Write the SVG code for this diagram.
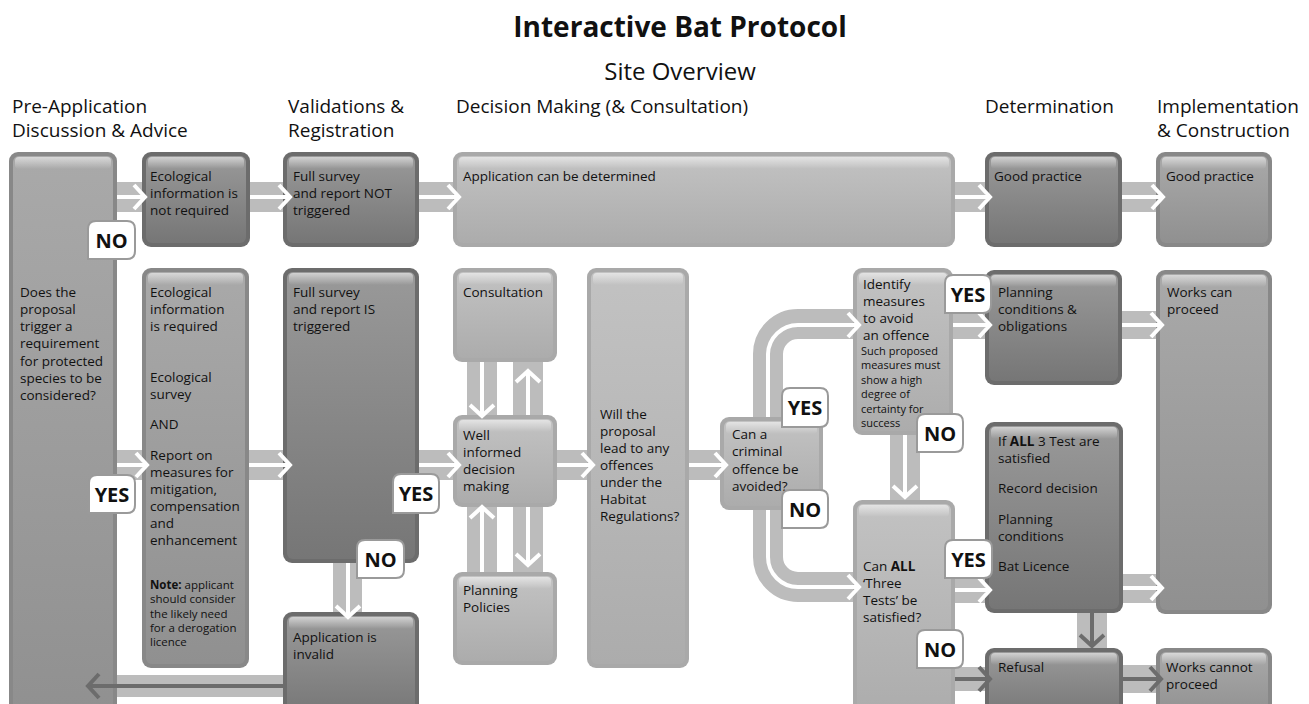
<svg xmlns="http://www.w3.org/2000/svg" width="1309" height="704" viewBox="0 0 1309 704">
<defs>
<linearGradient id="gd" x1="0" y1="0" x2="0" y2="1"><stop offset="0" stop-color="#999999"/><stop offset="1" stop-color="#767676"/></linearGradient>
<linearGradient id="gm" x1="0" y1="0" x2="0" y2="1"><stop offset="0" stop-color="#a9a9a9"/><stop offset="1" stop-color="#909090"/></linearGradient>
<linearGradient id="gl" x1="0" y1="0" x2="0" y2="1"><stop offset="0" stop-color="#c2c2c2"/><stop offset="1" stop-color="#acacac"/></linearGradient>
<linearGradient id="hl" x1="0" y1="0" x2="0" y2="1"><stop offset="0" stop-color="#ffffff" stop-opacity="0.55"/><stop offset="1" stop-color="#ffffff" stop-opacity="0"/></linearGradient>
<marker id="aw" markerUnits="userSpaceOnUse" markerWidth="16" markerHeight="28" viewBox="0 0 16 28" refX="13" refY="14" orient="auto" overflow="visible"><path d="M2,2 L13,14 L2,26" fill="none" stroke="#ffffff" stroke-width="4"/></marker>
<marker id="ad" markerUnits="userSpaceOnUse" markerWidth="16" markerHeight="28" viewBox="0 0 16 28" refX="13" refY="14" orient="auto" overflow="visible"><path d="M2,2 L13,14 L2,26" fill="none" stroke="#6c6c6c" stroke-width="4"/></marker>
</defs>
<style>
.t{font-family:"Open Sans","Liberation Sans",sans-serif;font-size:13.5px;fill:#111}
.s{font-family:"Open Sans","Liberation Sans",sans-serif;font-size:11px;fill:#111}
.h{font-family:"Open Sans","Liberation Sans",sans-serif;font-size:19px;fill:#111}
.bd{fill:#6c6c6c}.bm{fill:#888888}.bl{fill:#a9a9a9}
.id{fill:url(#gd)}.im{fill:url(#gm)}.il{fill:url(#gl)}
.hi{fill:url(#hl)}
.band{fill:#bcbcbc}
.bandp{fill:none;stroke:#bcbcbc;stroke-width:30}
.wa{fill:none;stroke:#ffffff;stroke-width:4;marker-end:url(#aw)}
.da{fill:none;stroke:#6c6c6c;stroke-width:4;marker-end:url(#ad)}
.lb{fill:#ffffff;stroke:#9a9a9a;stroke-width:2}
.lt{font-family:"Open Sans","Liberation Sans",sans-serif;font-size:20px;font-weight:bold;fill:#111;text-anchor:middle}
</style>
<rect width="1309" height="704" fill="#ffffff"/>
<g id="titles">
<text x="680" y="37" text-anchor="middle" style="font-family:'Open Sans','Liberation Sans',sans-serif;font-size:28px;font-weight:bold;fill:#111">Interactive Bat Protocol</text>
<text x="680" y="80" text-anchor="middle" style="font-family:'Open Sans','Liberation Sans',sans-serif;font-size:24px;fill:#111">Site Overview</text>
<text class="h" x="12" y="113">Pre-Application</text>
<text class="h" x="12" y="137">Discussion &amp; Advice</text>
<text class="h" x="288" y="113">Validations &amp;</text>
<text class="h" x="288" y="137">Registration</text>
<text class="h" x="456" y="113">Decision Making (&amp; Consultation)</text>
<text class="h" x="985" y="113">Determination</text>
<text class="h" x="1157" y="113">Implementation</text>
<text class="h" x="1157" y="137">&amp; Construction</text>
</g>
<g id="n-pre">
<rect class="bm" x="9" y="152" width="108" height="570" rx="9"/><rect class="im" x="13" y="156" width="100" height="562" rx="6"/><rect class="hi" x="15" y="157" width="96" height="12" rx="4"/>
<text class="t" x="20"><tspan x="20" y="297">Does the</tspan><tspan x="20" y="314">proposal</tspan><tspan x="20" y="331">trigger a</tspan><tspan x="20" y="348">requirement</tspan><tspan x="20" y="366">for protected</tspan><tspan x="20" y="383">species to be</tspan><tspan x="20" y="400">considered?</tspan></text>
</g>
<g id="n-eco-no">
<rect class="bd" x="142" y="152" width="108" height="95" rx="9"/><rect class="id" x="146" y="156" width="100" height="87" rx="6"/><rect class="hi" x="148" y="157" width="96" height="12" rx="4"/>
<text class="t"><tspan x="150" y="181">Ecological</tspan><tspan x="150" y="198">information is</tspan><tspan x="150" y="215">not required</tspan></text>
</g>
<g id="n-not">
<rect class="bd" x="283" y="152" width="136" height="95" rx="9"/><rect class="id" x="287" y="156" width="128" height="87" rx="6"/><rect class="hi" x="289" y="157" width="124" height="12" rx="4"/>
<text class="t"><tspan x="293" y="181">Full survey</tspan><tspan x="293" y="198">and report NOT</tspan><tspan x="293" y="215">triggered</tspan></text>
</g>
<g id="n-acbd">
<rect class="bl" x="453" y="152" width="502" height="95" rx="9"/><rect class="il" x="457" y="156" width="494" height="87" rx="6"/><rect class="hi" x="459" y="157" width="490" height="12" rx="4"/>
<text class="t" x="463" y="181">Application can be determined</text>
</g>
<g id="n-gp1">
<rect class="bd" x="985" y="152" width="137" height="95" rx="9"/><rect class="id" x="989" y="156" width="129" height="87" rx="6"/><rect class="hi" x="991" y="157" width="125" height="12" rx="4"/>
<text class="t" x="994" y="181">Good practice</text>
</g>
<g id="n-gp2">
<rect class="bm" x="1156" y="152" width="116" height="95" rx="9"/><rect class="im" x="1160" y="156" width="108" height="87" rx="6"/><rect class="hi" x="1162" y="157" width="104" height="12" rx="4"/>
<text class="t" x="1166" y="181">Good practice</text>
</g>
<g id="n-eco-req">
<rect class="bm" x="142" y="268" width="107" height="400" rx="9"/><rect class="im" x="146" y="272" width="99" height="392" rx="6"/><rect class="hi" x="148" y="273" width="95" height="12" rx="4"/>
<text class="t"><tspan x="150" y="297">Ecological</tspan><tspan x="150" y="314">information</tspan><tspan x="150" y="331">is required</tspan><tspan x="150" y="382">Ecological</tspan><tspan x="150" y="399">survey</tspan><tspan x="150" y="429">AND</tspan><tspan x="150" y="460">Report on</tspan><tspan x="150" y="477">measures for</tspan><tspan x="150" y="494">mitigation,</tspan><tspan x="150" y="511">compensation</tspan><tspan x="150" y="528">and</tspan><tspan x="150" y="545">enhancement</tspan></text>
<text class="s" style="font-size:11.5px"><tspan x="150" y="589"><tspan font-weight="bold">Note:</tspan> applicant</tspan><tspan x="150" y="603">should consider</tspan><tspan x="150" y="618">the likely need</tspan><tspan x="150" y="632">for a derogation</tspan><tspan x="150" y="646">licence</tspan></text>
</g>
<g id="n-is">
<rect class="bd" x="283" y="268" width="136" height="295" rx="9"/><rect class="id" x="287" y="272" width="128" height="287" rx="6"/><rect class="hi" x="289" y="273" width="124" height="12" rx="4"/>
<text class="t"><tspan x="293" y="297">Full survey</tspan><tspan x="293" y="314">and report IS</tspan><tspan x="293" y="331">triggered</tspan></text>
</g>
<g id="n-invalid">
<rect class="bd" x="283" y="612" width="136" height="110" rx="9"/><rect class="id" x="287" y="616" width="128" height="102" rx="6"/><rect class="hi" x="289" y="617" width="124" height="12" rx="4"/>
<text class="t"><tspan x="293" y="642">Application is</tspan><tspan x="293" y="659">invalid</tspan></text>
</g>
<g id="n-cons">
<rect class="bl" x="453" y="268" width="104" height="94" rx="9"/><rect class="il" x="457" y="272" width="96" height="86" rx="6"/><rect class="hi" x="459" y="273" width="92" height="12" rx="4"/>
<text class="t" x="463" y="297">Consultation</text>
</g>
<g id="n-wid">
<rect class="bl" x="453" y="415" width="104" height="92" rx="9"/><rect class="il" x="457" y="419" width="96" height="84" rx="6"/><rect class="hi" x="459" y="420" width="92" height="12" rx="4"/>
<text class="t"><tspan x="463" y="440">Well</tspan><tspan x="463" y="457">informed</tspan><tspan x="463" y="474">decision</tspan><tspan x="463" y="491">making</tspan></text>
</g>
<g id="n-pp">
<rect class="bl" x="453" y="572" width="104" height="93" rx="9"/><rect class="il" x="457" y="576" width="96" height="85" rx="6"/><rect class="hi" x="459" y="577" width="92" height="12" rx="4"/>
<text class="t"><tspan x="463" y="595">Planning</tspan><tspan x="463" y="612">Policies</tspan></text>
</g>
<g id="n-will">
<rect class="bl" x="587" y="268" width="102" height="400" rx="9"/><rect class="il" x="591" y="272" width="94" height="392" rx="6"/><rect class="hi" x="593" y="273" width="90" height="12" rx="4"/>
<text class="t"><tspan x="600" y="419">Will the</tspan><tspan x="600" y="436">proposal</tspan><tspan x="600" y="453">lead to any</tspan><tspan x="600" y="470">offences</tspan><tspan x="600" y="487">under the</tspan><tspan x="600" y="504">Habitat</tspan><tspan x="600" y="521">Regulations?</tspan></text>
</g>
<g id="n-crim">
<rect class="bl" x="720" y="417" width="103" height="93" rx="9"/><rect class="il" x="724" y="421" width="95" height="85" rx="6"/><rect class="hi" x="726" y="422" width="91" height="12" rx="4"/>
<text class="t"><tspan x="732" y="439">Can a</tspan><tspan x="732" y="456">criminal</tspan><tspan x="732" y="474">offence be</tspan><tspan x="732" y="491">avoided?</tspan></text>
</g>
<g id="n-ident">
<rect class="bl" x="853" y="268" width="100" height="167" rx="9"/><rect class="il" x="857" y="272" width="92" height="159" rx="6"/><rect class="hi" x="859" y="273" width="88" height="12" rx="4"/>
<text class="t"><tspan x="863" y="289">Identify</tspan><tspan x="863" y="306">measures</tspan><tspan x="863" y="323">to avoid</tspan><tspan x="863" y="340">an offence</tspan></text>
<text class="s"><tspan x="861" y="355">Such proposed</tspan><tspan x="861" y="369">measures must</tspan><tspan x="861" y="384">show a high</tspan><tspan x="861" y="398">degree of</tspan><tspan x="861" y="413">certainty for</tspan><tspan x="861" y="427">success</tspan></text>
</g>
<g id="n-pc">
<rect class="bd" x="985" y="270" width="137" height="115" rx="9"/><rect class="id" x="989" y="274" width="129" height="107" rx="6"/><rect class="hi" x="991" y="275" width="125" height="12" rx="4"/>
<text class="t"><tspan x="998" y="297">Planning</tspan><tspan x="998" y="314">conditions &amp;</tspan><tspan x="998" y="331">obligations</tspan></text>
</g>
<g id="n-wcp">
<rect class="bm" x="1156" y="270" width="116" height="344" rx="9"/><rect class="im" x="1160" y="274" width="108" height="336" rx="6"/><rect class="hi" x="1162" y="275" width="104" height="12" rx="4"/>
<text class="t"><tspan x="1167" y="297">Works can</tspan><tspan x="1167" y="314">proceed</tspan></text>
</g>
<g id="n-all3">
<rect class="bd" x="985" y="422" width="138" height="191" rx="9"/><rect class="id" x="989" y="426" width="130" height="183" rx="6"/><rect class="hi" x="991" y="427" width="126" height="12" rx="4"/>
<text class="t"><tspan x="998" y="446">If <tspan font-weight="bold">ALL</tspan> 3 Test are</tspan><tspan x="998" y="463">satisfied</tspan><tspan x="998" y="493">Record decision</tspan><tspan x="998" y="524">Planning</tspan><tspan x="998" y="541">conditions</tspan><tspan x="998" y="571">Bat Licence</tspan></text>
</g>
<g id="n-canall">
<rect class="bl" x="853" y="500" width="102" height="222" rx="9"/><rect class="il" x="857" y="504" width="94" height="214" rx="6"/><rect class="hi" x="859" y="505" width="90" height="12" rx="4"/>
<text class="t"><tspan x="863" y="571">Can <tspan font-weight="bold">ALL</tspan></tspan><tspan x="863" y="588">‘Three</tspan><tspan x="863" y="605">Tests’ be</tspan><tspan x="863" y="622">satisfied?</tspan></text>
</g>
<g id="n-refusal">
<rect class="bd" x="985" y="648" width="138" height="74" rx="9"/><rect class="id" x="989" y="652" width="130" height="66" rx="6"/><rect class="hi" x="991" y="653" width="126" height="12" rx="4"/>
<text class="t" x="998" y="672">Refusal</text>
</g>
<g id="n-wcn">
<rect class="bm" x="1156" y="648" width="116" height="74" rx="9"/><rect class="im" x="1160" y="652" width="108" height="66" rx="6"/><rect class="hi" x="1162" y="653" width="104" height="12" rx="4"/>
<text class="t"><tspan x="1166" y="672">Works cannot</tspan><tspan x="1166" y="689">proceed</tspan></text>
</g>
<g id="connectors">
<rect class="band" x="117" y="182" width="25" height="30"/>
<rect class="band" x="250" y="182" width="33" height="30"/>
<rect class="band" x="419" y="182" width="34" height="30"/>
<rect class="band" x="955" y="182" width="30" height="30"/>
<rect class="band" x="1122" y="182" width="34" height="30"/>
<rect class="band" x="117" y="450" width="25" height="30"/>
<rect class="band" x="249" y="450" width="34" height="30"/>
<rect class="band" x="419" y="450" width="34" height="30"/>
<rect class="band" x="557" y="450" width="30" height="30"/>
<rect class="band" x="689" y="450" width="31" height="30"/>
<rect class="band" x="953" y="311" width="32" height="28"/>
<rect class="band" x="1122" y="311" width="34" height="28"/>
<rect class="band" x="955" y="575" width="30" height="28"/>
<rect class="band" x="1123" y="574" width="33" height="29"/>
<rect class="band" x="955" y="667" width="30" height="24"/>
<rect class="band" x="1123" y="665" width="33" height="28"/>
<rect class="band" x="117" y="675" width="166" height="22"/>
<rect class="band" x="467" y="362" width="30" height="53"/>
<rect class="band" x="513" y="362" width="30" height="53"/>
<rect class="band" x="467" y="507" width="30" height="65"/>
<rect class="band" x="513" y="507" width="30" height="65"/>
<rect class="band" x="333" y="563" width="29" height="49"/>
<rect class="band" x="890" y="435" width="30" height="65"/>
<rect class="band" x="1077" y="613" width="30" height="35"/>
<path class="bandp" d="M768,417 V354 A30,30 0 0 1 798,324 H853"/>
<path class="bandp" d="M768,510 V557 A30,30 0 0 0 798,587 H853"/>
<path class="wa" d="M117,197 H145"/>
<path class="wa" d="M250,197 H290"/>
<path class="wa" d="M419,197 H459"/>
<path class="wa" d="M955,197 H990"/>
<path class="wa" d="M1122,197 H1163"/>
<path class="wa" d="M117,465 H147"/>
<path class="wa" d="M249,465 H290"/>
<path class="wa" d="M419,465 H459"/>
<path class="wa" d="M557,465 H593"/>
<path class="wa" d="M689,465 H726"/>
<path class="wa" d="M953,325 H990"/>
<path class="wa" d="M1122,325 H1162"/>
<path class="wa" d="M955,590 H990"/>
<path class="wa" d="M1123,588 H1162"/>
<path class="wa" d="M768,417 V354 A30,30 0 0 1 798,325 H859"/>
<path class="wa" d="M768,510 V557 A30,30 0 0 0 798,587 H859"/>
<path class="wa" d="M482,362 V416"/>
<path class="wa" d="M528,415 V371"/>
<path class="wa" d="M482,572 V507"/>
<path class="wa" d="M528,507 V565"/>
<path class="wa" d="M348,563 V617"/>
<path class="wa" d="M905,435 V497"/>
<path class="da" d="M1092,613 V646"/>
<path class="da" d="M955,679 H990"/>
<path class="da" d="M1123,679 H1161"/>
<path class="da" d="M283,686 H88"/>
</g>
<g id="labels">
<path class="lb" d="M96,221 H127 Q135,221 135,229 V251 Q135,259 127,259 H88 V229 Q88,221 96,221 Z"/><text class="lt" x="111.5" y="248">NO</text>
<path class="lb" d="M97,475 H127 Q135,475 135,483 V505 Q135,513 127,513 H89 V483 Q89,475 97,475 Z"/><text class="lt" x="112" y="502">YES</text>
<path class="lb" d="M401,474 H431 Q439,474 439,482 V505 Q439,513 431,513 H393 V482 Q393,474 401,474 Z"/><text class="lt" x="416" y="501">YES</text>
<path class="lb" d="M365,540 H396 Q404,540 404,548 V570 Q404,578 396,578 H357 V548 Q357,540 365,540 Z"/><text class="lt" x="380.5" y="567">NO</text>
<path class="lb" d="M790,388 H820 Q828,388 828,396 V419 Q828,427 820,427 H782 V396 Q782,388 790,388 Z"/><text class="lt" x="805" y="415">YES</text>
<path class="lb" d="M790,490 H820 Q828,490 828,498 V520 Q828,528 820,528 H782 V498 Q782,490 790,490 Z"/><text class="lt" x="805" y="517">NO</text>
<path class="lb" d="M953,275 H983 Q991,275 991,283 V305 Q991,313 983,313 H945 V283 Q945,275 953,275 Z"/><text class="lt" x="968" y="302">YES</text>
<path class="lb" d="M925,414 H955 Q963,414 963,422 V444 Q963,452 955,452 H917 V422 Q917,414 925,414 Z"/><text class="lt" x="940" y="441">NO</text>
<path class="lb" d="M953,540 H984 Q992,540 992,548 V570 Q992,578 984,578 H945 V548 Q945,540 953,540 Z"/><text class="lt" x="968.5" y="567">YES</text>
<path class="lb" d="M925,630 H955 Q963,630 963,638 V660 Q963,668 955,668 H917 V638 Q917,630 925,630 Z"/><text class="lt" x="940" y="657">NO</text>
</g>
</svg>
